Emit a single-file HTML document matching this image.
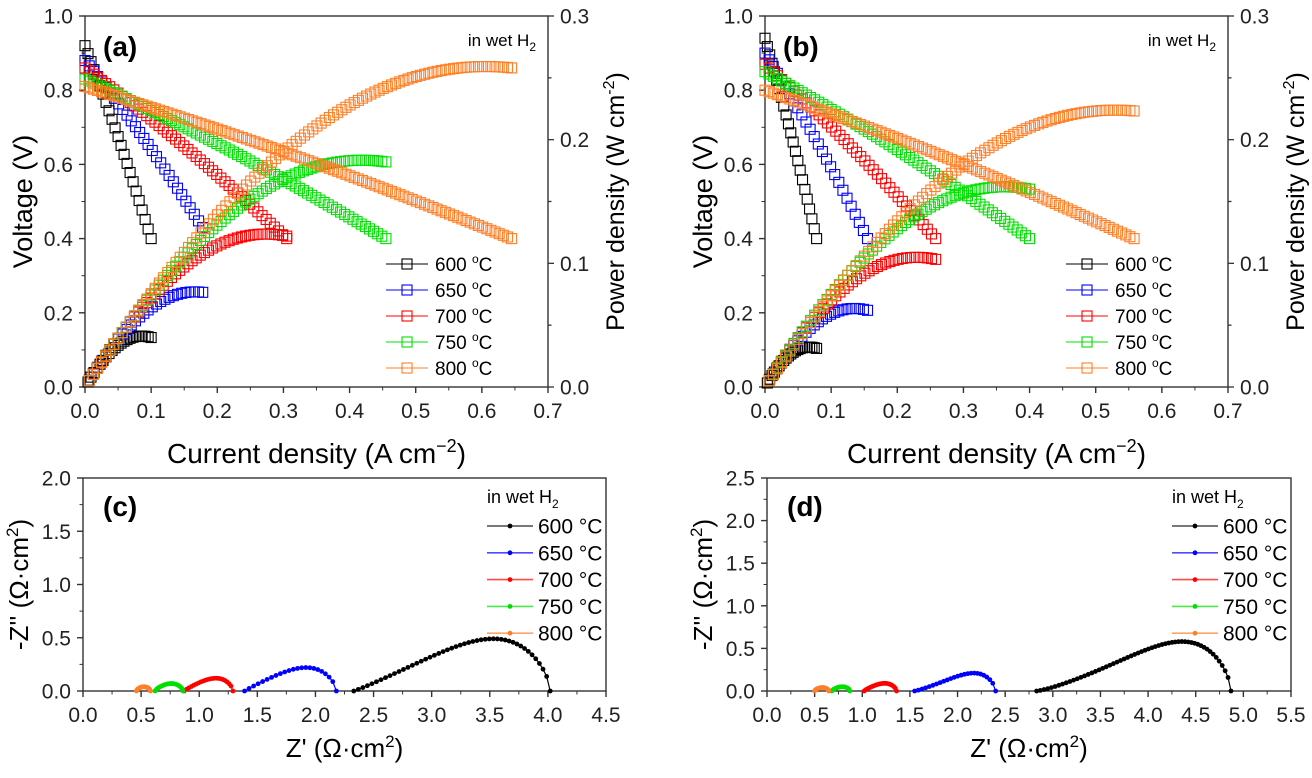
<!DOCTYPE html>
<html><head><meta charset="utf-8"><style>
body{margin:0;background:#fff;width:1312px;height:773px;overflow:hidden}
svg{font-family:"Liberation Sans",Arial,sans-serif}
</style></head><body>
<svg id="s" width="1312" height="773" xmlns="http://www.w3.org/2000/svg"></svg>
<script>
const S=document.getElementById('s');let h='';
const C=['#000','#0000ff','#ff0000','#00e000','#ff7f27'];
const T=['600','650','700','750','800'];
function ax(o){
 const X=v=>o.x0+(v-o.xmin)/(o.xmax-o.xmin)*(o.x1-o.x0);
 const Y=v=>o.y1-(v-o.ymin)/(o.ymax-o.ymin)*(o.y1-o.y0);
 h+=`<rect x="${o.x0}" y="${o.y0}" width="${o.x1-o.x0}" height="${o.y1-o.y0}" fill="none" stroke="#333" stroke-width="1.4"/>`;
 let n=Math.round((o.xmax-o.xmin)/o.xstep);
 for(let i=0;i<=n;i++){let v=o.xmin+i*o.xstep,x=X(v);
  h+=`<line x1="${x}" y1="${o.y1}" x2="${x}" y2="${o.y1+6}" stroke="#333" stroke-width="1.4"/>`;
  if(i<n){let xm=X(v+o.xstep/2);h+=`<line x1="${xm}" y1="${o.y1}" x2="${xm}" y2="${o.y1+3.5}" stroke="#333"/>`;}
  h+=`<text x="${x}" y="${o.y1+31}" font-size="21" text-anchor="middle" fill="#222">${v.toFixed(1)}</text>`;}
 n=Math.round((o.ymax-o.ymin)/o.ystep);
 for(let i=0;i<=n;i++){let v=o.ymin+i*o.ystep,y=Y(v);
  h+=`<line x1="${o.x0-6}" y1="${y}" x2="${o.x0}" y2="${y}" stroke="#333" stroke-width="1.4"/>`;
  if(i<n){let ym=Y(v+o.ystep/2);h+=`<line x1="${o.x0-3.5}" y1="${ym}" x2="${o.x0}" y2="${ym}" stroke="#333"/>`;}
  h+=`<text x="${o.x0-12}" y="${y+7.5}" font-size="21" text-anchor="end" fill="#222">${v.toFixed(1)}</text>`;}
 return [X,Y];
}
function sq(x,y,c){h+=`<rect x="${x-5}" y="${y-5}" width="10" height="10" fill="none" stroke="${c}" stroke-width="1.1"/>`;}
function pol(o,d,lab){
 const [X,Y]=ax(Object.assign({xmin:0,xmax:0.7,xstep:0.1,ymin:0,ymax:1,ystep:0.2},o));
 for(let i=0;i<=6;i++){let y=o.y1-i/6*(o.y1-o.y0),L=i%2?3.5:6;
  h+=`<line x1="${o.x1}" y1="${y}" x2="${o.x1+L}" y2="${y}" stroke="#333" stroke-width="1.3"/>`;
  if(i%2==0)h+=`<text x="${o.x1+12}" y="${y+7.5}" font-size="21" fill="#222">${(i*0.05).toFixed(1)}</text>`;}
 const YP=p=>o.y1-p/0.3*(o.y1-o.y0);
 d.forEach((s,k)=>{const [v0,xe,ve]=s;const N=Math.max(22,Math.round(xe*160));
  for(let i=0;i<=N;i++){let x=xe*i/N,t=x/xe;let v=v0+(ve-v0)*t + 0.015*Math.sin(Math.PI*t);
   sq(X(x),Y(v),C[k]); if(i>0) sq(X(x),YP(v*x),C[k]);}
 });
 h+=`<text x="${o.x0+18}" y="${o.y0+40}" font-size="28" font-weight="bold">(${lab})</text>`;
 h+=`<text x="${o.x1-12}" y="${o.y0+30}" font-size="17" text-anchor="end">in wet H<tspan font-size="12" dy="5">2</tspan></text>`;
 T.forEach((t,k)=>{let y=o.y0+248+k*26,lx=o.x0+301;
  h+=`<line x1="${lx}" y1="${y}" x2="${lx+42}" y2="${y}" stroke="${C[k]}"/>`;sq(lx+21,y,C[k]);
  h+=`<text x="${lx+49}" y="${y+7}" font-size="19">${t} <tspan font-size="12" dy="-8">o</tspan><tspan dy="8">C</tspan></text>`;});
 h+=`<text transform="translate(${o.x0-53},${(o.y0+o.y1)/2}) rotate(-90)" font-size="27" text-anchor="middle">Voltage (V)</text>`;
 h+=`<text transform="translate(${o.x1+76},${(o.y0+o.y1)/2}) rotate(-90)" font-size="25" text-anchor="middle">Power density (W cm<tspan font-size="16" dy="-10">-2</tspan><tspan dy="10">)</tspan></text>`;
 h+=`<text x="${(o.x0+o.x1)/2}" y="${o.y1+76}" font-size="28" text-anchor="middle">Current density (A cm<tspan font-size="18" dy="-11">−2</tspan><tspan dy="11">)</tspan></text>`;
}
pol({x0:85,x1:548,y0:16,y1:387},[[0.92,0.10,0.40],[0.88,0.178,0.43],[0.86,0.305,0.40],[0.83,0.455,0.40],[0.81,0.645,0.40]],'a');
pol({x0:765,x1:1228,y0:16,y1:387},[[0.94,0.078,0.40],[0.90,0.155,0.40],[0.87,0.258,0.40],[0.85,0.40,0.40],[0.80,0.558,0.40]],'b');
function nyq(o,arcs,lab){
 const [X,Y]=ax(Object.assign({xmin:0,xstep:0.5,ymin:0,ystep:0.5},o));
 arcs.forEach((a,k)=>{const [s,e,hh,tp]=a;const kk=Math.log(0.5)/Math.log(tp);const N=Math.max(22,Math.round((e-s)*28));
  let pts=[];for(let i=0;i<=N;i++){let t=i/N;let u=Math.pow(t,kk);let x=s+(e-s)*(Math.sin(t*Math.PI/2)*0.15+t*0.85),y=hh*Math.pow(Math.sin(Math.PI*u),0.6);pts.push([X(x),Y(y)]);}
  h+=`<polyline points="${pts.map(p=>p.join(',')).join(' ')}" fill="none" stroke="${C[k]}" stroke-width="1.2"/>`;
  pts.forEach(p=>h+=`<circle cx="${p[0]}" cy="${p[1]}" r="2.4" fill="${C[k]}"/>`);});
 h+=`<text x="${o.x0+20}" y="${o.y0+38}" font-size="28" font-weight="bold">(${lab})</text>`;
 let lx=o.lx;
 h+=`<text x="${lx}" y="${o.y0+25}" font-size="18">in wet H<tspan font-size="12" dy="5">2</tspan></text>`;
 T.forEach((t,k)=>{let y=o.y0+48+k*26.8;
  h+=`<line x1="${lx}" y1="${y}" x2="${lx+46}" y2="${y}" stroke="${C[k]}" stroke-width="1.6" opacity="0.7"/><circle cx="${lx+23}" cy="${y}" r="2.4" fill="${C[k]}"/>`;
  h+=`<text x="${lx+51}" y="${y+7.5}" font-size="21">${t} °C</text>`;});
 h+=`<text transform="translate(${o.x0-55},${(o.y0+o.y1)/2}) rotate(-90)" font-size="26" text-anchor="middle">-Z'' (Ω·cm<tspan font-size="17" dy="-10">2</tspan><tspan dy="10">)</tspan></text>`;
 h+=`<text x="${(o.x0+o.x1)/2}" y="${o.y1+66}" font-size="26" text-anchor="middle">Z' (Ω·cm<tspan font-size="17" dy="-10">2</tspan><tspan dy="10">)</tspan></text>`;
}
nyq({x0:83,x1:606,y0:478,y1:691,xmax:4.5,ymax:2.0,lx:487},[[2.33,4.02,0.49,0.68],[1.39,2.18,0.22,0.64],[0.87,1.29,0.12,0.62],[0.62,0.86,0.07,0.55],[0.46,0.58,0.04,0.5]],'c');
nyq({x0:767,x1:1291,y0:478,y1:691,xmax:5.5,ymax:2.5,lx:1172},[[2.83,4.87,0.58,0.72],[1.55,2.40,0.21,0.7],[1.02,1.36,0.09,0.6],[0.68,0.87,0.05,0.55],[0.50,0.65,0.04,0.5]],'d');
S.innerHTML=h;
</script>
</body></html>
